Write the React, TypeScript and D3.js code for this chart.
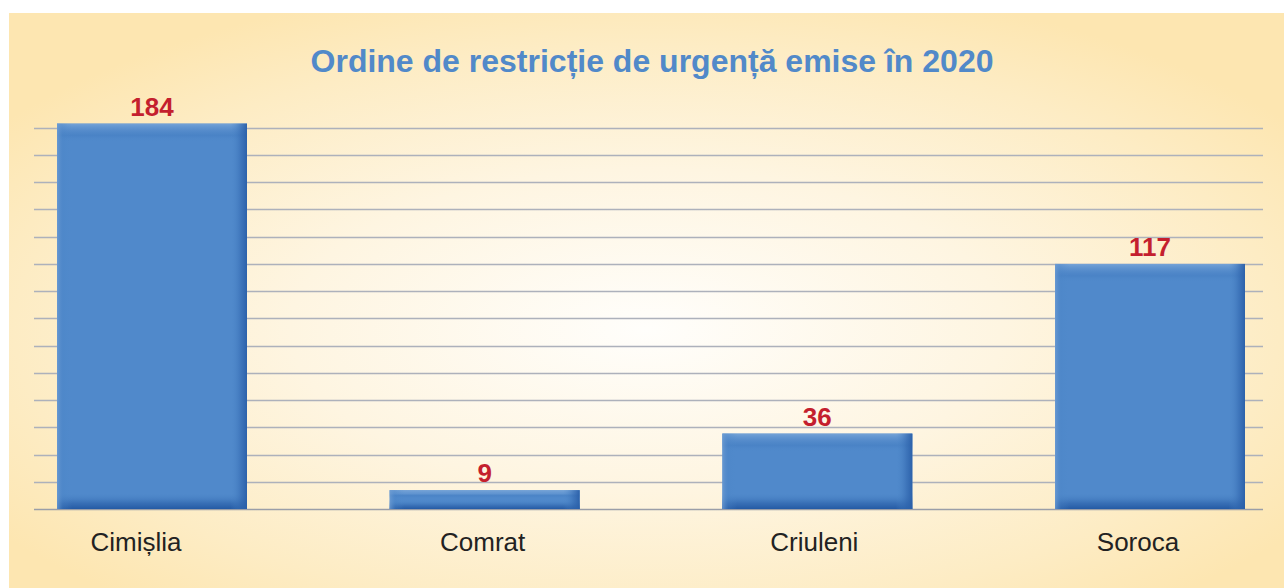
import React from "react";
import * as d3 from "d3";

const categories = ["Cimișlia", "Comrat", "Criuleni", "Soroca"];
const values = [184, 9, 36, 117];
const gridValues = [0, 13, 26, 39, 52, 65, 78, 91, 104, 117, 130, 143, 156, 169, 182];
const labelShift = [-16, -2, -3, -12];
const title = "Ordine de restricție de urgență emise în 2020";

const W = 1284;
const H = 588;

export default function App() {
  const x = d3.scalePoint<string>().domain(categories).range([152, 1150]);
  const y = d3.scaleLinear().domain([0, 182]).range([509, 127.8]);
  const barW = 190;
  const bevel = 15;

  return (
    <svg
      width={W}
      height={H}
      style={{ position: "absolute", left: 0, top: 0, display: "block" }}
      xmlns="http://www.w3.org/2000/svg"
    >
      <defs>
        <radialGradient id="bg" cx="0.5" cy="0.55" r="0.62" fx="0.5" fy="0.55">
          <stop offset="0" stopColor="#fffefb" />
          <stop offset="0.45" stopColor="#fef5e1" />
          <stop offset="0.8" stopColor="#fdecc4" />
          <stop offset="1" stopColor="#fde6b1" />
        </radialGradient>
        {values.map((v, i) => {
          const h = y(0) - y(v);
          const fb = Math.min(bevel / h, 0.45);
          const ft = Math.min(4 / h, 0.2);
          const fx = bevel / barW;
          return (
            <React.Fragment key={i}>
              <linearGradient id={`vg${i}`} x1="0" y1="0" x2="0" y2="1">
                <stop offset="0" stopColor="#7aa6d8" stopOpacity="0.9" />
                <stop offset={ft} stopColor="#6a9bd3" stopOpacity="0.6" />
                <stop offset={Math.min(ft * 3, 0.3)} stopColor="#3f78bd" stopOpacity="0.35" />
                <stop offset={Math.min(fb * 1.2, 0.45)} stopColor="#4f8acb" stopOpacity="0" />
                <stop offset={1 - fb * 1.1} stopColor="#4f8acb" stopOpacity="0" />
                <stop offset={1 - fb * 0.4} stopColor="#2f65ad" stopOpacity="0.7" />
                <stop offset="1" stopColor="#245aa4" stopOpacity="1" />
              </linearGradient>
              <linearGradient id={`hg${i}`} x1="0" y1="0" x2="1" y2="0">
                <stop offset="0" stopColor="#6f9dd3" stopOpacity="0.8" />
                <stop offset={fx * 0.4} stopColor="#4a84c6" stopOpacity="0.3" />
                <stop offset={fx} stopColor="#4f8acb" stopOpacity="0" />
                <stop offset={1 - fx * 1.1} stopColor="#4f8acb" stopOpacity="0" />
                <stop offset={1 - fx * 0.4} stopColor="#3268b0" stopOpacity="0.6" />
                <stop offset="1" stopColor="#2a5fa8" stopOpacity="0.95" />
              </linearGradient>
            </React.Fragment>
          );
        })}
      </defs>

      <rect x={9} y={13} width={W - 9} height={H - 13} fill="url(#bg)" />

      <text
        x={652}
        y={71.5}
        textAnchor="middle"
        fontFamily="Liberation Sans, Arial, sans-serif"
        fontWeight="bold"
        fontSize={32}
        fill="#5189c9"
      >
        {title}
      </text>

      {gridValues.map((g) => (
        <line
          key={g}
          x1={34}
          x2={1263}
          y1={Math.round(y(g)) + 0.5}
          y2={Math.round(y(g)) + 0.5}
          stroke={g === 0 ? "#9a9ea8" : "#adb1bb"}
          strokeWidth={g === 0 ? 1.7 : 1.4}
        />
      ))}

      {categories.map((c, i) => {
        const cx = x(c) as number;
        const top = y(values[i]);
        const h = y(0) - top;
        return (
          <g key={c}>
            <rect x={cx - barW / 2} y={top} width={barW} height={h} fill="#5089cb" />
            <rect x={cx - barW / 2} y={top} width={barW} height={h} fill={`url(#vg${i})`} />
            <rect x={cx - barW / 2} y={top} width={barW} height={h} fill={`url(#hg${i})`} />
            <text
              x={cx}
              y={top - 8}
              textAnchor="middle"
              fontFamily="Liberation Sans, Arial, sans-serif"
              fontWeight="bold"
              fontSize={26}
              fill="#c41f2e"
            >
              {values[i]}
            </text>
            <text
              x={cx + labelShift[i]}
              y={551}
              textAnchor="middle"
              fontFamily="Liberation Sans, Arial, sans-serif"
              fontSize={26}
              fill="#222222"
            >
              {c}
            </text>
          </g>
        );
      })}
    </svg>
  );
}
